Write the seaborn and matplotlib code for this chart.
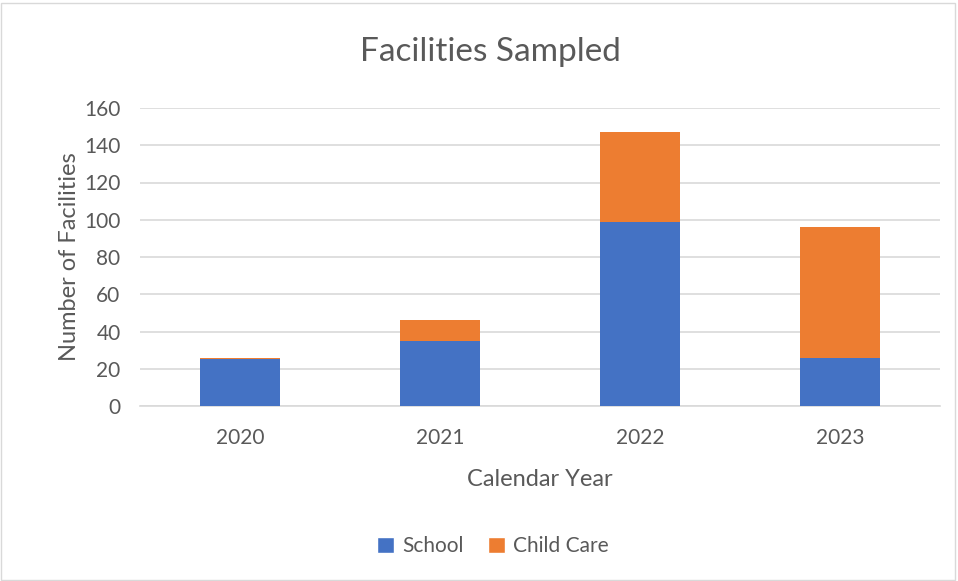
import matplotlib
matplotlib.use("Agg")
import matplotlib.pyplot as plt
import seaborn as sns
import pandas as pd
from matplotlib.patches import Patch, Rectangle

years = ["2020", "2021", "2022", "2023"]
school = [25, 35, 99, 26]
child_care = [1, 11, 48, 70]

sns.set_theme(style="white")
plt.rcParams['font.family'] = ['Lato', 'DejaVu Sans']

BLUE = "#4472C4"
ORANGE = "#ED7D31"
TXT = "#595959"

df = pd.DataFrame({"Year": years, "School": school, "Child Care": child_care})
df["Total"] = df["School"] + df["Child Care"]

fig = plt.figure(figsize=(9.58, 5.81), dpi=100)
ax = fig.add_axes([140/958, 1-406/581, 800/958, 298/581])

sns.barplot(data=df, x="Year", y="Total", color=ORANGE, width=0.4, ax=ax,
            saturation=1, edgecolor="none", zorder=3)
sns.barplot(data=df, x="Year", y="School", color=BLUE, width=0.4, ax=ax,
            saturation=1, edgecolor="none", zorder=4)

ax.set_ylim(0, 160)
ax.set_yticks(range(0, 161, 20))
ax.yaxis.grid(True, color="#D9D9D9", linewidth=1.2, zorder=0)
ax.set_axisbelow(True)
for s in ["top", "right", "left"]:
    ax.spines[s].set_visible(False)
ax.spines["bottom"].set_color("#D9D9D9")
ax.spines["bottom"].set_linewidth(1.2)
ax.tick_params(axis="both", length=0, labelsize=15, colors=TXT)
ax.tick_params(axis="x", pad=16)
ax.tick_params(axis="y", pad=14)
ax.set_xlabel("Calendar Year", fontsize=17, color=TXT, labelpad=15)
ax.set_ylabel("Number of Facilities", fontsize=17, color=TXT, labelpad=3)

fig.text(490/958, 1-52/581, "Facilities Sampled", ha="center", va="center",
         fontsize=24, color=TXT)

handles = [Patch(facecolor=BLUE, label="School"), Patch(facecolor=ORANGE, label="Child Care")]
fig.legend(handles=handles, loc="center", bbox_to_anchor=(493/958, 1-546/581), ncol=2,
           frameon=False, fontsize=15, handlelength=0.8, handleheight=0.8,
           columnspacing=1.2, handletextpad=0.4, labelcolor=TXT)

fig.patches.append(Rectangle((1/958, 1/581), 954/958, 577/581, transform=fig.transFigure,
                             fill=False, edgecolor="#D9D9D9", linewidth=1))

fig.savefig("out.png", dpi=100)
